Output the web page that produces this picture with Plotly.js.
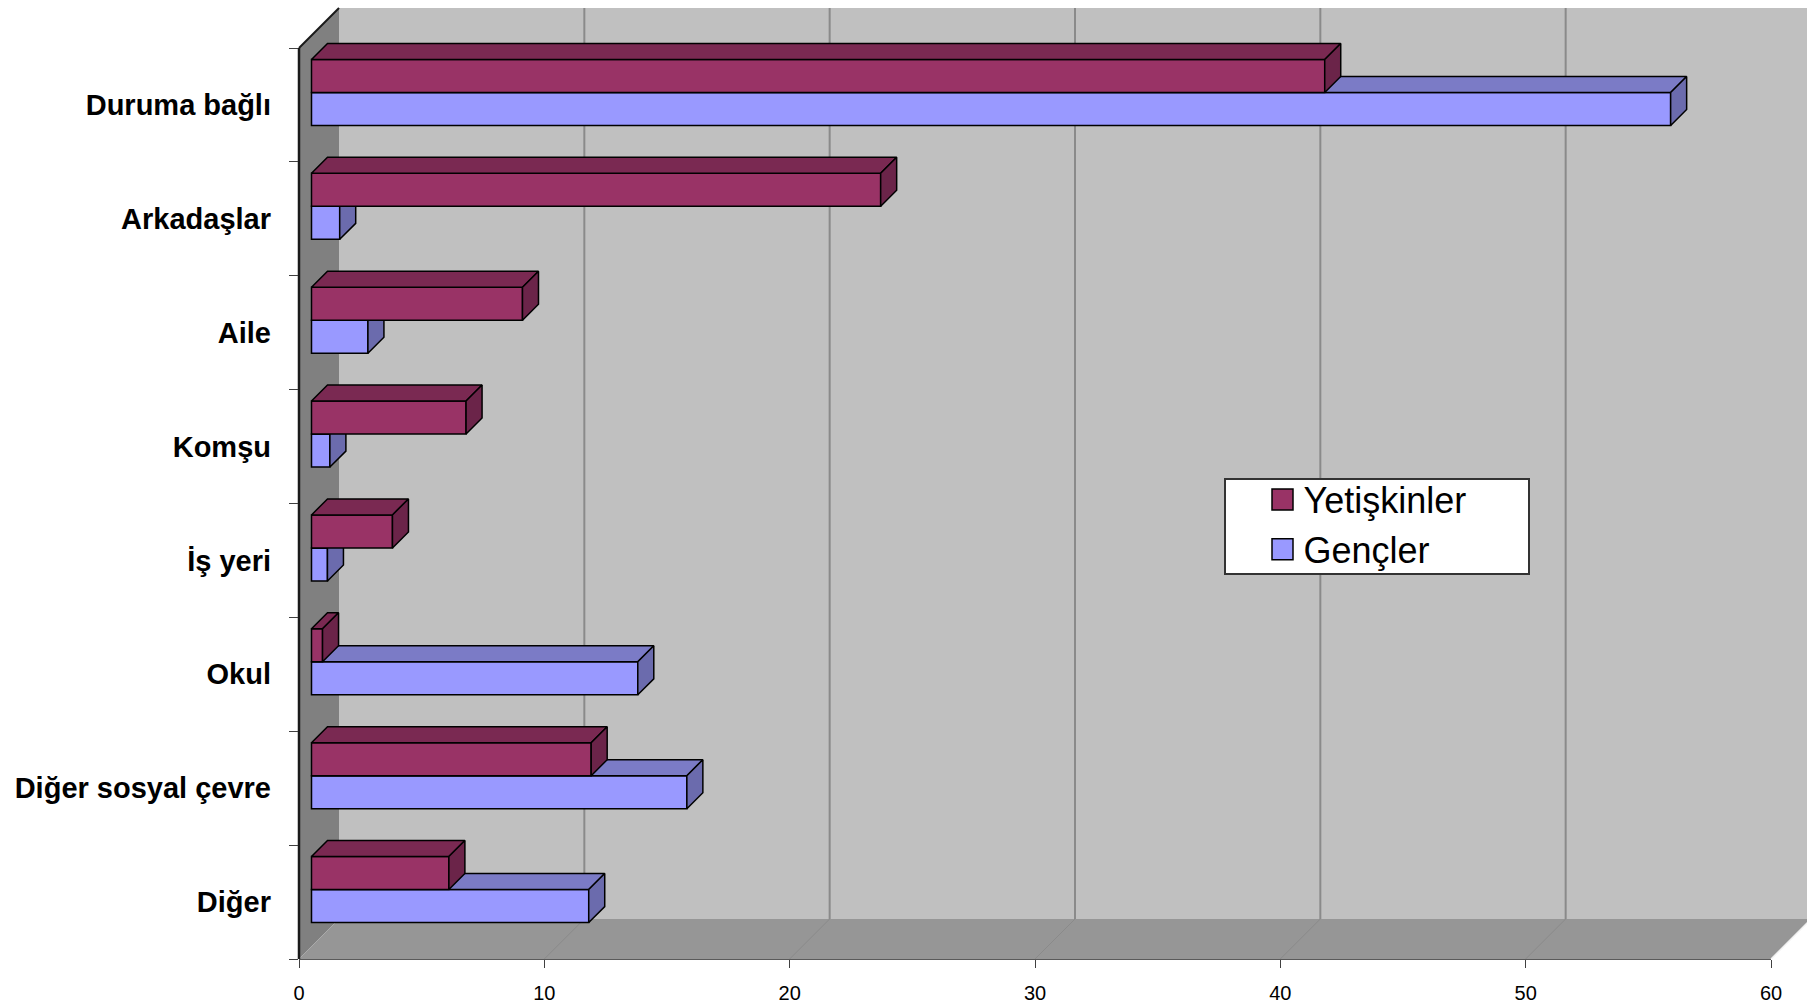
<!DOCTYPE html>
<html><head><meta charset="utf-8">
<script src="https://cdn.plot.ly/plotly-3.0.1.min.js"></script>
<style>html,body{margin:0;padding:0;background:#fff;}#chart{width:1807px;height:1007px;}</style>
</head><body><div id="chart"></div>
<script>
// ---------- data ----------
const categories = ["Duruma bağlı", "Arkadaşlar", "Aile", "Komşu", "İş yeri", "Okul", "Diğer sosyal çevre", "Diğer"];
const seriesNames = ["Yetişkinler", "Gençler"];
const yetiskinler = [41.3, 23.2, 8.6, 6.3, 3.3, 0.45, 11.4, 5.6];
const gencler = [55.4, 1.15, 2.3, 0.75, 0.65, 13.3, 15.3, 11.3];
const xTickVals = [0, 10, 20, 30, 40, 50, 60];
const xTickText = ["0", "10", "20", "30", "40", "50", "60"];

// ---------- geometry / style ----------
const FONT = "Liberation Sans, Arial, sans-serif";
const W = 1807, H = 1007;
const L = 299, R = 1771, FRONT_TOP = 48, FLOOR = 959, T = 7;
const DEPTH = 40, BAR_SHIFT = 12.5, BAR_DEPTH = 16, BAR_W = 0.29, XMAX = 60;
const N = categories.length;
const plotW = R - L, plotH = FLOOR - T;
const ppu = plotW / XMAX;
const slot = (FLOOR - FRONT_TOP) / N;
const yTopFront = -0.5 - (FRONT_TOP - T) / slot;
const yBotFront = N - 0.5;
const yTopBar = yTopFront + BAR_SHIFT / slot;
const yBotBar = yBotFront + BAR_SHIFT / slot;
const xMinBar = -BAR_SHIFT / ppu;
const xMaxBar = XMAX - BAR_SHIFT / ppu;
const dxu = BAR_DEPTH / ppu, dyu = BAR_DEPTH / slot;
const idx = categories.map((c, i) => i);

const COLORS = {
  yet: {front: "#993366", top: "#7a2952", side: "#6b2449"},
  gen: {front: "#9999ff", top: "#7b7bc6", side: "#6b6bad"}
};

function faces(vals, offStart) {
  const top = {x: [], y: []}, side = {x: [], y: []};
  vals.forEach((v, k) => {
    const y0 = k + offStart, y1 = y0 + BAR_W;
    top.x.push(0, v, v + dxu, dxu, 0, null);
    top.y.push(y0, y0, y0 - dyu, y0 - dyu, y0, null);
    side.x.push(v, v + dxu, v + dxu, v, v, null);
    side.y.push(y0, y0 - dyu, y1 - dyu, y1, y0, null);
  });
  return {top, side};
}

function seriesTraces(name, vals, offStart, col, xa, ya, rank) {
  const f = faces(vals, offStart);
  return [
    {type: "bar", orientation: "h", name: name, x: vals, y: idx, base: 0,
     width: BAR_W, offset: offStart, xaxis: xa, yaxis: ya, legendrank: rank,
     marker: {color: col.front, line: {color: "#000", width: 1.5}}, hoverinfo: "x+name"},
    {type: "scatter", mode: "lines", x: f.top.x, y: f.top.y, fill: "toself",
     fillcolor: col.top, line: {color: "#000", width: 1.5}, xaxis: xa, yaxis: ya,
     showlegend: false, hoverinfo: "skip"},
    {type: "scatter", mode: "lines", x: f.side.x, y: f.side.y, fill: "toself",
     fillcolor: col.side, line: {color: "#000", width: 1.5}, xaxis: xa, yaxis: ya,
     showlegend: false, hoverinfo: "skip"}
  ];
}

// invisible carrier trace so the front (labelled) axes are drawn
const frontAxisTrace = {type: "scatter", mode: "markers", x: [0, XMAX], y: [0, N - 1],
  marker: {opacity: 0, size: 1}, showlegend: false, hoverinfo: "skip", xaxis: "x", yaxis: "y"};

const data = [frontAxisTrace].concat(
  seriesTraces(seriesNames[1], gencler, 0, COLORS.gen, "x2", "y2", 2),
  seriesTraces(seriesNames[0], yetiskinler, -BAR_W, COLORS.yet, "x3", "y3", 1)
);

// ---------- walls (decoration) ----------
const xp = px => (px - L) / plotW;
const yp = py => (FLOOR - py) / plotH;
const shapes = [];
const P = (a, b) => xp(a) + "," + yp(b);
shapes.push({type: "rect", xref: "paper", yref: "paper", layer: "below",
  x0: xp(L + DEPTH), x1: xp(R + DEPTH), y0: yp(FLOOR - DEPTH), y1: yp(FRONT_TOP - DEPTH),
  fillcolor: "#c0c0c0", line: {width: 0}});
shapes.push({type: "path", xref: "paper", yref: "paper", layer: "below",
  path: "M" + P(L, FLOOR) + "L" + P(L + DEPTH, FLOOR - DEPTH) + "L" + P(L + DEPTH, FRONT_TOP - DEPTH) + "L" + P(L, FRONT_TOP) + "Z",
  fillcolor: "#808080", line: {width: 0}});
shapes.push({type: "path", xref: "paper", yref: "paper", layer: "below",
  path: "M" + P(L, FLOOR) + "L" + P(R, FLOOR) + "L" + P(R + DEPTH, FLOOR - DEPTH) + "L" + P(L + DEPTH, FLOOR - DEPTH) + "Z",
  fillcolor: "#969696", line: {width: 0}});
xTickVals.forEach(v => {
  if (v === 0) return;
  const bx = L + DEPTH + v * ppu;
  shapes.push({type: "line", xref: "paper", yref: "paper", layer: "below",
    x0: xp(bx), x1: xp(bx), y0: yp(FLOOR - DEPTH), y1: yp(FRONT_TOP - DEPTH),
    line: {color: "#8a8a8a", width: 2}});
  shapes.push({type: "line", xref: "paper", yref: "paper", layer: "below",
    x0: xp(L + v * ppu), x1: xp(bx), y0: yp(FLOOR), y1: yp(FLOOR - DEPTH),
    line: {color: v === XMAX ? "#f0f0f0" : "#8a8a8a", width: v === XMAX ? 1.5 : 1}});
});
shapes.push({type: "line", xref: "paper", yref: "paper", layer: "below",
  x0: xp(L), x1: xp(L), y0: yp(FLOOR), y1: yp(FRONT_TOP), line: {color: "#1a1a1a", width: 2.5}});
shapes.push({type: "line", xref: "paper", yref: "paper", layer: "below",
  x0: xp(L), x1: xp(L + DEPTH), y0: yp(FRONT_TOP), y1: yp(FRONT_TOP - DEPTH), line: {color: "#1a1a1a", width: 2}});

const hidden = {visible: false, showgrid: false, zeroline: false, fixedrange: true};
const LEG_LEFT = 1224, LEG_TOP = 478, LEG_W = 304, LEG_H = 95, LEG_SHIFT = 10;
const layout = {
  width: W, height: H,
  margin: {l: L, r: W - R, t: T, b: H - FLOOR, pad: 0},
  paper_bgcolor: "#ffffff", plot_bgcolor: "rgba(0,0,0,0)",
  barmode: "overlay",
  showlegend: true,
  font: {family: FONT, color: "#000"},
  xaxis: {domain: [0, 1], range: [0, XMAX], tickmode: "array", tickvals: xTickVals, ticktext: xTickText,
    ticks: "outside", ticklen: 8, tickcolor: "#404040", tickwidth: 1, ticklabelstandoff: 8,
    showline: true, linecolor: "#5a5a5a", linewidth: 1, showgrid: false, zeroline: false,
    tickfont: {family: FONT, size: 20, color: "#000"}, fixedrange: true},
  yaxis: {domain: [0, 1], range: [yBotFront, yTopFront], tickmode: "array", tickvals: idx, ticktext: categories,
    ticks: "", showline: false, showgrid: false, zeroline: false, ticklabelstandoff: 27,
    minor: {tickmode: "array", tickvals: categories.map((c, i) => i - 0.5).concat([N - 0.5]),
      ticks: "outside", ticklen: 9, tickcolor: "#404040", tickwidth: 1, showgrid: false},
    tickfont: {family: FONT, size: 29, weight: "bold", color: "#000"}, fixedrange: true},
  xaxis2: Object.assign({overlaying: "x", anchor: "y2", range: [xMinBar, xMaxBar]}, hidden),
  yaxis2: Object.assign({overlaying: "y", anchor: "x2", range: [yBotBar, yTopBar]}, hidden),
  xaxis3: Object.assign({overlaying: "x", anchor: "y3", range: [xMinBar, xMaxBar]}, hidden),
  yaxis3: Object.assign({overlaying: "y", anchor: "x3", range: [yBotBar, yTopBar]}, hidden),
  legend: {x: xp(LEG_LEFT), y: yp(LEG_TOP - LEG_SHIFT), xanchor: "left", yanchor: "top",
    bgcolor: "#ffffff", bordercolor: "#333333", borderwidth: 1.5,
    font: {family: FONT, size: 36, color: "#000"}, itemwidth: 68, traceorder: "normal", tracegroupgap: 0},
  shapes: shapes
};

Plotly.newPlot("chart", data, layout, {displayModeBar: false, staticPlot: true}).then(gd => {
  gd.querySelectorAll(".legend .legendpoints path").forEach(p => {
    p.setAttribute("d", "M28.5,10.5H7.5V-10.5H28.5Z");
  });
  const bg = gd.querySelector(".legend rect.bg");
  if (bg) {
    const y0 = parseFloat(bg.getAttribute("y")) || 0;
    bg.setAttribute("y", y0 + LEG_SHIFT);
    bg.setAttribute("width", LEG_W);
    bg.setAttribute("height", LEG_H);
  }
});
</script>
</body></html>
